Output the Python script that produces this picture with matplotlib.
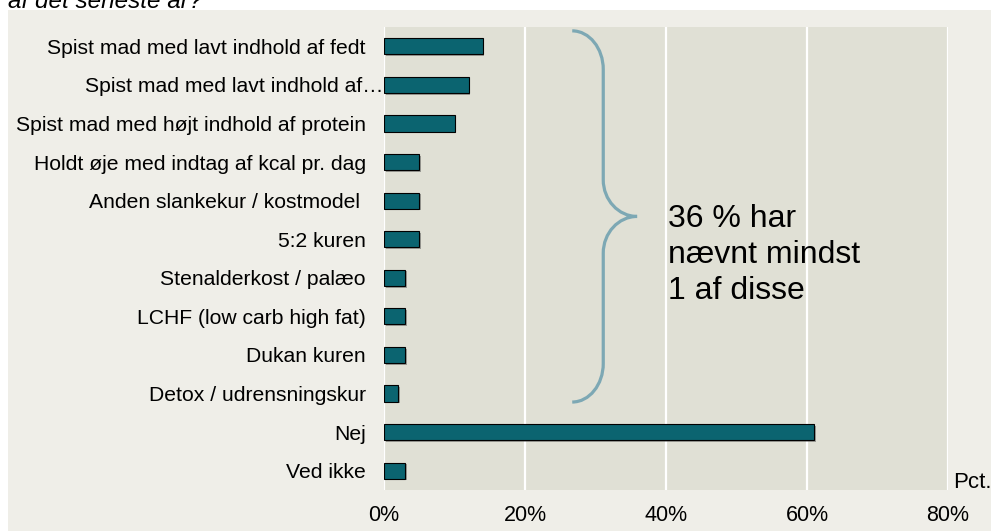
import numpy as np
import matplotlib.pyplot as plt
from matplotlib.path import Path
from matplotlib.patches import PathPatch, Rectangle
from matplotlib.transforms import ScaledTranslation
import matplotlib.patheffects as pe

plt.rcParams['font.family'] = ['Liberation Sans', 'DejaVu Sans']

categories = ['Spist mad med lavt indhold af fedt',
              'Spist mad med lavt indhold af\u2026',
              'Spist mad med højt indhold af protein',
              'Holdt øje med indtag af kcal pr. dag',
              'Anden slankekur / kostmodel ',
              '5:2 kuren',
              'Stenalderkost / palæo',
              'LCHF (low carb high fat)',
              'Dukan kuren',
              'Detox / udrensningskur',
              'Nej',
              'Ved ikke']
values = [14, 12, 10, 5, 5, 5, 3, 3, 3, 2, 61, 3]
xticks = [0, 20, 40, 60, 80]
xticklabels = ['0%', '20%', '40%', '60%', '80%']
brace_text = '36 % har\nnævnt mindst\n1 af disse'
n_braced = 10

W, H = 991, 531
fig = plt.figure(figsize=(W / 100, H / 100), dpi=100)
fig.patch.set_facecolor('white')
# beige panel behind everything
fig.add_artist(Rectangle((8 / W, 0), 1, 1 - 10 / H, transform=fig.transFigure,
                         facecolor='#EFEEE8', edgecolor='none', zorder=-5))

ax = fig.add_axes([384 / W, 41 / H, 564 / W, 463 / H])
ax.set_zorder(2)
ax.set_facecolor('#E0E0D5')
y = np.arange(len(categories))
bars = ax.barh(y, values, height=0.42, color='#0B6470', edgecolor='black',
               linewidth=0.8, zorder=3)
for b in bars:
    b.set_path_effects([pe.SimplePatchShadow(offset=(1.2, -1.2), shadow_rgbFace='#555555', alpha=0.5),
                        pe.Normal()])

ax.set_xlim(0, 80)
ax.set_ylim(len(categories) - 0.5, -0.5)
ax.set_xticks(xticks)
ax.set_xticklabels(xticklabels, fontsize=15.5)
ax.set_yticks(y)
ax.set_yticklabels(categories, fontsize=15.2)
ax.tick_params(axis='both', length=0)
ax.tick_params(axis='x', pad=11)
ax.tick_params(axis='y', pad=13)
ax.grid(axis='x', color='white', linewidth=1.6, zorder=1)
ax.set_axisbelow(True)
for s in ax.spines.values():
    s.set_visible(False)

# the truncated label runs up to the plot edge
lbl = ax.get_yticklabels()[1]
lbl.set_transform(lbl.get_transform() + ScaledTranslation(0.17, 0, fig.dpi_scale_trans))

# curly brace spanning the first categories
x0, xv, xt = 26.7, 31.1, 35.9
yt, yb = -0.4, n_braced - 0.78
ym = (yt + yb) / 2
r = 1.0
r2 = 0.95
k = 0.55
verts = [(x0, yt),
         (x0 + k * (xv - x0), yt), (xv, yt + (1 - k) * r), (xv, yt + r),
         (xv, ym - r2),
         (xv, ym - (1 - k) * r2), (xv + (1 - k) * (xt - xv), ym), (xt, ym),
         (xv + (1 - k) * (xt - xv), ym), (xv, ym + (1 - k) * r2), (xv, ym + r2),
         (xv, yb - r),
         (xv, yb - (1 - k) * r), (x0 + k * (xv - x0), yb), (x0, yb)]
codes = [Path.MOVETO,
         Path.CURVE4, Path.CURVE4, Path.CURVE4,
         Path.LINETO,
         Path.CURVE4, Path.CURVE4, Path.CURVE4,
         Path.CURVE4, Path.CURVE4, Path.CURVE4,
         Path.LINETO,
         Path.CURVE4, Path.CURVE4, Path.CURVE4]
ax.add_patch(PathPatch(Path(verts, codes), facecolor='none', edgecolor='#7DA8B4',
                       linewidth=2.3, capstyle='butt', zorder=4))
ax.text(40.3, ym + 1.0, brace_text, fontsize=23, va='center', ha='left',
        linespacing=1.28, zorder=5)

fig.text(953 / W, 1 - 483 / H, 'Pct.', fontsize=16, va='center', ha='left')
fig.text(8 / W, 1 - 2 / H, 'af det seneste år?', fontsize=17.5, style='italic',
         va='center', ha='left')

fig.savefig('out.png', dpi=100, facecolor=fig.get_facecolor())
